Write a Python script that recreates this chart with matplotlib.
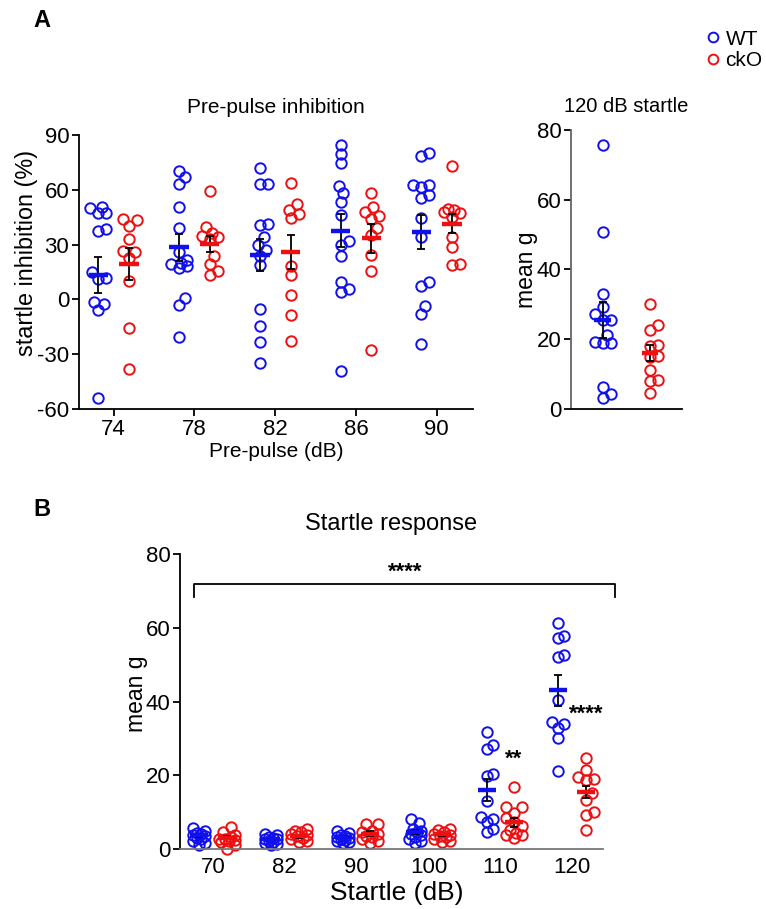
import matplotlib
matplotlib.use("Agg")
import matplotlib.pyplot as plt
from matplotlib.lines import Line2D

plt.rcParams["font.family"] = ["Liberation Sans", "DejaVu Sans"]
plt.rcParams["axes.unicode_minus"] = False

WT_COLOR = "#1010ee"
KO_COLOR = "#ee1010"

# ---- Panel A left: pre-pulse inhibition (%) ----
ppi_levels = ["74", "78", "82", "86", "90"]
ppi_wt = [
    [49.9, 50.8, 47.5, 47.2, 38.4, 37.5, 14.9, 11.6, 11.3, -2.4, -1.7, -6.0, -54.0],
    [70.5, 66.9, 63.2, 50.3, 39.0, 26.2, 21.7, 19.8, 19.3, 18.0, 17.1, 0.7, -3.3, -20.8],
    [71.8, 63.2, 63.2, 41.3, 40.8, 33.9, 29.9, 27.1, 23.5, 18.6, -5.3, -14.4, -23.4, -34.8],
    [84.5, 79.6, 74.9, 62.3, 58.1, 53.5, 46.3, 31.7, 29.5, 23.8, 9.6, 5.6, 4.0, -39.4],
    [80.0, 78.5, 62.7, 62.7, 61.4, 57.2, 55.4, 44.4, 33.9, 9.3, 7.1, -3.9, -8.1, -24.3],
]
ppi_ko = [
    [44.1, 43.2, 40.2, 33.1, 26.6, 26.2, 22.6, 10.2, -15.7, -38.1],
    [59.6, 39.5, 36.2, 34.8, 34.4, 33.0, 23.8, 19.3, 15.3, 13.1],
    [63.9, 52.1, 49.0, 46.6, 44.4, 18.4, 13.5, 2.5, -8.4, -22.6],
    [58.1, 50.8, 47.7, 45.9, 44.1, 39.0, 35.3, 24.4, 15.3, -27.6],
    [73.2, 49.4, 49.0, 48.1, 47.2, 45.3, 34.4, 28.9, 19.3, 18.9],
]
ppi_wt_mean = [13.4, 28.4, 24.2, 37.5, 36.8]
ppi_wt_sem = [9.7, 7.3, 8.8, 9.1, 9.2]
ppi_ko_mean = [19.3, 30.4, 26.0, 33.5, 41.3]
ppi_ko_sem = [8.7, 4.5, 9.3, 8.0, 5.2]

# ---- Panel A right: 120 dB startle (mean g) ----
s120_wt = [75.7, 50.8, 33.1, 29.1, 27.2, 25.6, 25.6, 21.2, 19.1, 18.9, 18.9, 6.3, 4.4, 3.1]
s120_ko = [30.0, 24.0, 22.7, 18.3, 18.1, 15.1, 14.8, 11.3, 8.2, 8.1, 4.6]
s120_mean = [25.6, 16.0]
s120_sem = [5.2, 2.3]

# ---- Panel B: startle response (mean g) ----
startle_levels = ["70", "82", "90", "100", "110", "120"]
startle_wt = [
    [5.6, 5.0, 4.4, 4.0, 3.7, 3.4, 3.0, 2.6, 2.2, 1.7, 1.2],
    [4.1, 3.7, 3.3, 3.0, 2.8, 2.6, 2.3, 2.0, 1.7, 1.4, 1.1],
    [4.8, 4.3, 3.9, 3.6, 3.3, 3.1, 2.8, 2.5, 2.2, 1.9, 1.5],
    [8.2, 7.1, 5.5, 5.0, 4.6, 4.2, 3.7, 3.3, 2.8, 2.2, 1.6],
    [31.6, 28.2, 27.2, 20.3, 19.8, 13.0, 8.7, 8.1, 7.3, 5.3, 4.6],
    [61.2, 57.8, 57.2, 52.6, 52.2, 40.4, 34.5, 33.9, 32.7, 30.2, 21.2],
]
startle_ko = [
    [6.0, 4.6, 3.7, 3.3, 2.8, 2.8, 2.4, 2.2, 1.9, 1.2, 0.1],
    [5.3, 4.9, 4.5, 4.1, 3.7, 3.4, 3.0, 2.7, 2.3, 1.9],
    [6.9, 6.7, 5.0, 4.5, 4.1, 3.6, 3.2, 2.7, 2.2, 1.6],
    [5.5, 5.1, 4.6, 4.2, 3.9, 3.5, 3.2, 2.7, 2.2, 1.9],
    [16.7, 11.4, 11.4, 9.8, 8.5, 7.3, 6.2, 5.1, 4.4, 3.7, 3.7, 3.1],
    [24.6, 21.4, 19.6, 19.1, 18.7, 15.2, 13.2, 10.1, 9.2, 5.1],
]
startle_wt_mean = [3.7, 2.8, 3.3, 4.6, 15.9, 43.0]
startle_wt_sem = [0.4, 0.3, 0.3, 0.6, 3.0, 4.1]
startle_ko_mean = [3.1, 3.4, 4.2, 4.0, 7.3, 15.5]
startle_ko_sem = [0.5, 0.4, 0.6, 0.4, 1.2, 1.6]


def swarm(ax, xc, vals, color, diam=10.0, max_off=8.0, ms=7.5):
    # compact beeswarm in display space (points may overlap a bit, like Prism)
    cands = [0.0]
    k = 1
    while k * 2.0 <= max_off:
        cands += [k * 2.0, -k * 2.0]
        k += 1
    placed = []
    xs, ys = [], []
    for v in sorted(vals):
        x0, y0 = ax.transData.transform((xc, v))
        best, best_d = 0.0, -1.0
        for off in cands:
            d = min([((x0 + off - px) ** 2 + (y0 - py) ** 2) ** 0.5
                     for px, py in placed] + [1e9])
            if d >= 0.85 * diam:
                best = off
                break
            if d > best_d:
                best, best_d = off, d
        placed.append((x0 + best, y0))
        xd, yd = ax.transData.inverted().transform((x0 + best, y0))
        xs.append(xd)
        ys.append(yd)
    ax.plot(xs, ys, "o", ls="none", mfc="none", mec=color, ms=ms, mew=1.4,
            zorder=2, clip_on=False)


def mean_sem(ax, x, m, s, color, hw):
    ax.errorbar(x, m, yerr=s, fmt="none", ecolor="black", elinewidth=1.3,
                capsize=3, capthick=1.3, zorder=3)
    ax.hlines(m, x - hw, x + hw, color=color, lw=3.2, zorder=4)


def style(ax):
    for side in ["top", "right"]:
        ax.spines[side].set_visible(False)
    for side in ["left", "bottom"]:
        ax.spines[side].set_linewidth(1.3)
    ax.tick_params(direction="out", length=5, width=1.3, labelsize=16, pad=2)


fig = plt.figure(figsize=(7.66, 9.09), dpi=100)

# Panel A left
ax1 = fig.add_axes([0.1031, 0.5501, 0.5144, 0.3014])
ax1.set_xlim(-0.43, 4.45)
ax1.set_ylim(-60, 90)
style(ax1)
ax1.set_yticks([-60, -30, 0, 30, 60, 90])
ax1.set_xticks(range(len(ppi_levels)))
ax1.set_xticklabels(ppi_levels)
off = 0.19
for i in range(len(ppi_levels)):
    swarm(ax1, i - off, ppi_wt[i], WT_COLOR)
    swarm(ax1, i + off, ppi_ko[i], KO_COLOR)
    mean_sem(ax1, i - off, ppi_wt_mean[i], ppi_wt_sem[i], WT_COLOR, 0.12)
    mean_sem(ax1, i + off, ppi_ko_mean[i], ppi_ko_sem[i], KO_COLOR, 0.12)
ax1.set_title("Pre-pulse inhibition", fontsize=15, pad=16)
ax1.set_xlabel("Pre-pulse (dB)", fontsize=15, labelpad=2)
ax1.set_ylabel("startle inhibition (%)", fontsize=16.8)
ax1.yaxis.set_label_coords(-0.104, 0.569)

# Panel A right
ax2 = fig.add_axes([0.7454, 0.5501, 0.1449, 0.3069])
ax2.set_xlim(-0.68, 1.68)
ax2.set_ylim(0, 80)
style(ax2)
ax2.spines["left"].set_color("#666666")
ax2.set_xticks([])
ax2.set_yticks([0, 20, 40, 60, 80])
swarm(ax2, 0, s120_wt, WT_COLOR)
swarm(ax2, 1, s120_ko, KO_COLOR)
mean_sem(ax2, 0, s120_mean[0], s120_sem[0], WT_COLOR, 0.18)
mean_sem(ax2, 1, s120_mean[1], s120_sem[1], KO_COLOR, 0.18)
ax2.set_title("120 dB startle", fontsize=14.5, pad=13)
ax2.set_ylabel("mean g", fontsize=16.5)
ax2.yaxis.set_label_coords(-0.30, 0.5)

# Panel B
ax3 = fig.add_axes([0.2350, 0.0660, 0.5522, 0.3245])
ax3.set_xlim(-0.46, 5.43)
ax3.set_ylim(0, 80)
style(ax3)
ax3.spines["bottom"].set_color("#777777")
ax3.tick_params(axis="x", length=0, pad=6)
ax3.set_yticks([0, 20, 40, 60, 80])
ax3.set_xticks(range(len(startle_levels)))
ax3.set_xticklabels(startle_levels)
off = 0.19
for i in range(len(startle_levels)):
    swarm(ax3, i - off, startle_wt[i], WT_COLOR, max_off=6.0)
    swarm(ax3, i + off, startle_ko[i], KO_COLOR, max_off=8.0)
    mean_sem(ax3, i - off, startle_wt_mean[i], startle_wt_sem[i], WT_COLOR, 0.125)
    mean_sem(ax3, i + off, startle_ko_mean[i], startle_ko_sem[i], KO_COLOR, 0.125)
ax3.set_title("Startle response", fontsize=17, pad=17)
ax3.set_xlabel("Startle (dB)", fontsize=19)
ax3.xaxis.set_label_coords(0.512, -0.108)
ax3.set_ylabel("mean g", fontsize=16.5)
ax3.yaxis.set_label_coords(-0.076, 0.527)

# significance marks
ax3.plot([-0.26, -0.26, 5.6, 5.6], [68.3, 71.8, 71.8, 68.3], color="black",
         lw=1.3, clip_on=False)
ax3.text(2.67, 72.3, "****", ha="center", va="bottom", fontsize=16, fontweight="bold")
ax3.text(4 + off, 24.3, "**", ha="center", va="center", fontsize=16, fontweight="bold")
ax3.text(5 + off, 36.5, "****", ha="center", va="center", fontsize=16, fontweight="bold")

# panel letters
fig.text(0.055, 0.977, "A", fontsize=17, fontweight="bold", ha="center", va="center")
fig.text(0.055, 0.440, "B", fontsize=17, fontweight="bold", ha="center", va="center")

# legend
handles = [
    Line2D([], [], marker="o", ls="none", mfc="none", mec=WT_COLOR, ms=7, mew=1.4),
    Line2D([], [], marker="o", ls="none", mfc="none", mec=KO_COLOR, ms=7, mew=1.4),
]
fig.legend(handles, ["WT", "ckO"], loc="upper right", bbox_to_anchor=(1.012, 0.981),
           frameon=False, fontsize=15, handlelength=0.6, handletextpad=0.3,
           labelspacing=0.1, borderaxespad=0.2)

fig.savefig("out.png", dpi=100)
